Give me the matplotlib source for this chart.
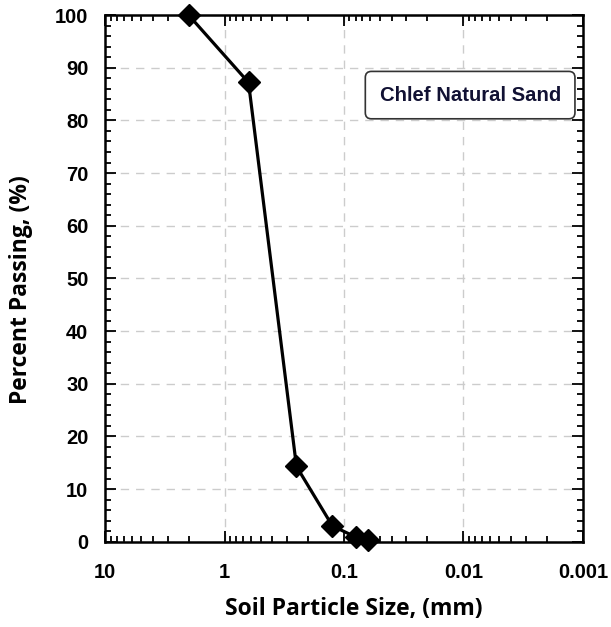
import matplotlib.pyplot as plt
import numpy as np
from matplotlib.ticker import MultipleLocator, FixedLocator, LogLocator, NullFormatter

# grain size distribution
size_mm = [2.0, 0.63, 0.25, 0.125, 0.08, 0.063]
passing = [100.0, 87.2, 14.3, 3.0, 0.9, 0.3]

x_ticks = [10, 1, 0.1, 0.01, 0.001]
x_tick_labels = ['10', '1', '0.1', '0.01', '0.001']
y_ticks = [0, 10, 20, 30, 40, 50, 60, 70, 80, 90, 100]

fig = plt.figure(figsize=(6.11, 6.27), dpi=100)
ax = fig.add_axes([0.172, 0.136, 0.782, 0.840])

ax.plot(size_mm, passing, color='black', lw=2.3, marker='D', ms=11,
        markerfacecolor='black', markeredgecolor='black', clip_on=False, zorder=5)

ax.set_xscale('log')
ax.set_xlim(10, 0.001)
ax.set_ylim(0, 100)

ax.xaxis.set_major_locator(FixedLocator(x_ticks))
ax.set_xticklabels(x_tick_labels)
ax.xaxis.set_minor_locator(LogLocator(base=10, subs=np.arange(2, 10)))
ax.xaxis.set_minor_formatter(NullFormatter())
ax.set_yticks(y_ticks)
ax.yaxis.set_minor_locator(MultipleLocator(2))

ax.grid(True, which='major', color='#cccccc', linestyle=(0, (6, 5)), lw=1)
ax.tick_params(which='both', direction='in', top=True, right=True, width=1.3)
ax.tick_params(which='major', length=8)
ax.tick_params(which='minor', length=4)
ax.tick_params(axis='x', pad=15)
ax.tick_params(axis='y', pad=12)
for sp in ax.spines.values():
    sp.set_linewidth(1.8)

for lab in ax.get_xticklabels() + ax.get_yticklabels():
    lab.set_fontfamily('Liberation Sans')
    lab.set_fontweight('bold')
    lab.set_fontsize(14.5)

ax.set_xlabel('Soil Particle Size, (mm)', fontsize=16.5, fontweight='bold',
              fontfamily='Open Sans', labelpad=11, x=0.52)
ax.set_ylabel('Percent Passing, (%)', fontsize=16.5, fontweight='bold',
              fontfamily='Open Sans', labelpad=16, y=0.478)

ax.text(0.764, 0.848, 'Chlef Natural Sand', transform=ax.transAxes,
        ha='center', va='center', fontsize=14.6, fontweight='bold',
        fontfamily='Liberation Sans', color='#111133',
        bbox=dict(boxstyle='round,pad=0.7,rounding_size=0.3', fc='white',
                  ec='#333333', lw=1.2))

fig.savefig('out.png', dpi=100)
